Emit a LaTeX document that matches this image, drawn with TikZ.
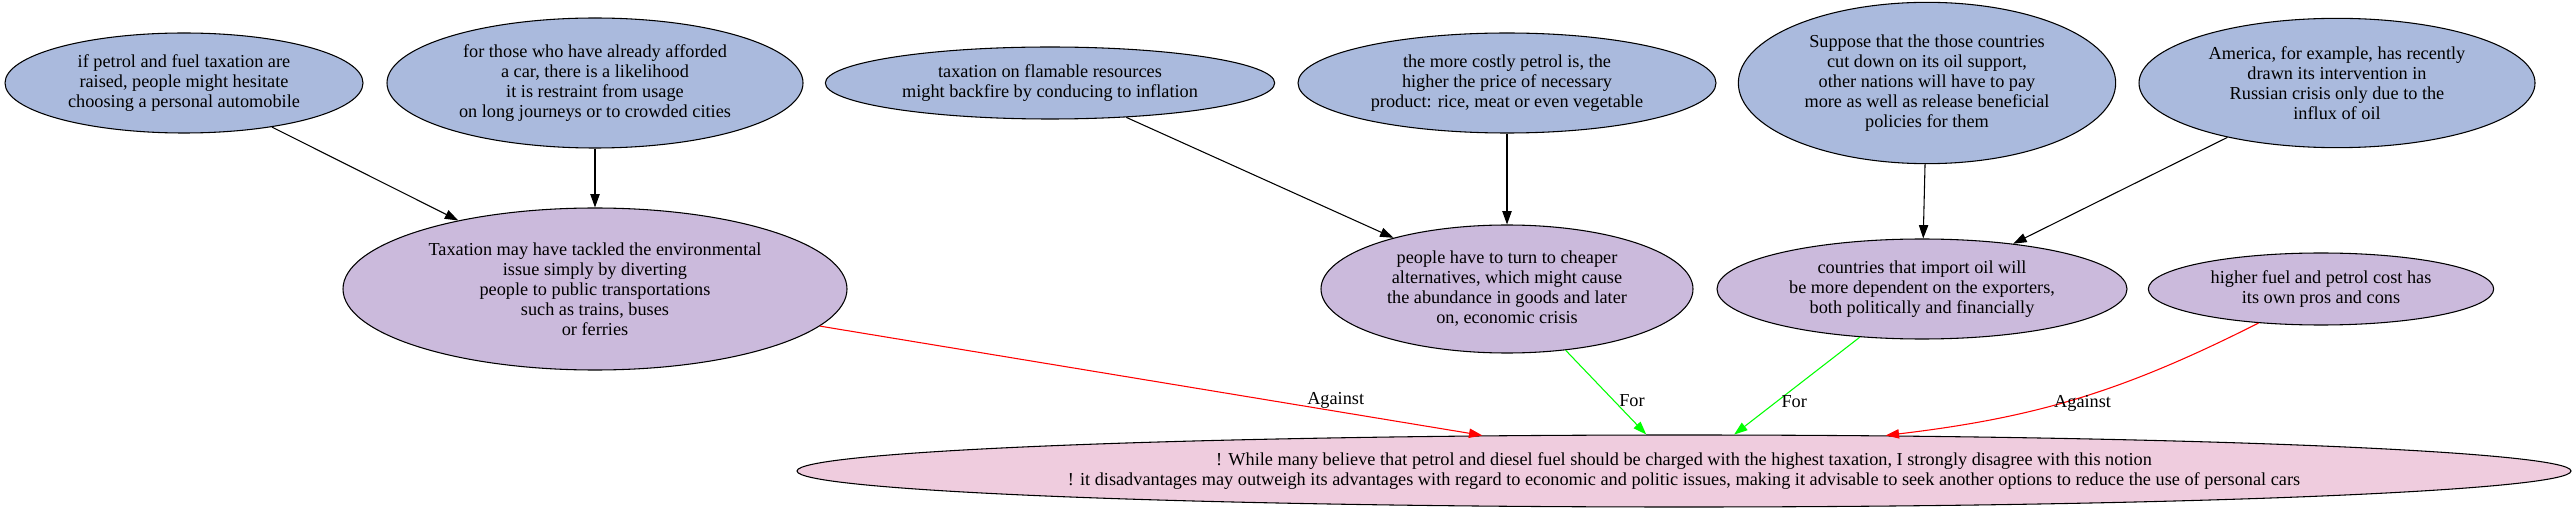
\documentclass[tikz,border=0pt]{standalone}
\usepackage{fontspec}
\setmainfont{Liberation Serif}
\usepackage{tikz}
\usetikzlibrary{shapes.geometric,arrows.meta}
\usepackage{xcolor}
\definecolor{premiseblue}{RGB}{170,186,221}
\definecolor{claimlilac}{RGB}{203,186,220}
\definecolor{thesispink}{RGB}{239,204,222}

\begin{document}
\begin{tikzpicture}[x=0.75pt, y=-0.75pt, >={Triangle[length=10pt,width=7pt]}]
    % bubble style
    \tikzstyle{bubble}=[
      draw,
      ellipse,
      inner sep=0pt,
      line width=0.8pt,
      align=center,
      font=\fontsize{13.7}{15}\selectfont
    ]
    \tikzstyle{premise}=[bubble, fill=premiseblue]
    \tikzstyle{claim}=[bubble, fill=claimlilac]
    \tikzstyle{thesis}=[bubble, fill=thesispink]
    \tikzstyle{lbl}=[inner sep=1pt, font=\fontsize{13.7}{15}\selectfont]

    \useasboundingbox (0,0) rectangle (2574,513);

    % Top row
    \node[premise, minimum width=268.5pt, minimum height=75pt] (A) at (184,83)
      {if petrol and fuel taxation are\\raised, people might hesitate\\choosing a personal automobile};
    \node[premise, minimum width=312pt, minimum height=97.5pt] (B) at (595,83)
      {for those who have already afforded\\a car, there is a likelihood\\it is restraint from usage\\on long journeys or to crowded cities};
    \node[premise, minimum width=337pt, minimum height=54pt] (C) at (1050,83)
      {taxation on flamable resources\\might backfire by conducing to inflation};
    \node[premise, minimum width=313.5pt, minimum height=75pt] (D) at (1507,83)
      {the more costly petrol is, the\\higher the price of necessary\\product: rice, meat or even vegetable};
    \node[premise, minimum width=283pt, minimum height=121pt] (E) at (1927,83)
      {Suppose that the those countries\\cut down on its oil support,\\other nations will have to pay\\more as well as release beneficial\\policies for them};
    \node[premise, minimum width=297pt, minimum height=97pt] (F) at (2337,83)
      {America, for example, has recently\\drawn its intervention in\\Russian crisis only due to the\\influx of oil};

    % Middle row
    \node[claim, minimum width=378pt, minimum height=121.5pt] (G) at (595,289)
      {Taxation may have tackled the environmental\\issue simply by diverting\\people to public transportations\\such as trains, buses\\or ferries};
    \node[claim, minimum width=279pt, minimum height=96pt] (H) at (1507,289)
      {people have to turn to cheaper\\alternatives, which might cause\\the abundance in goods and later\\on, economic crisis};
    \node[claim, minimum width=307.5pt, minimum height=75pt] (I) at (1922,289)
      {countries that import oil will\\be more dependent on the exporters,\\both politically and financially};
    \node[claim, minimum width=259pt, minimum height=54pt] (J) at (2321,289)
      {higher fuel and petrol cost has\\its own pros and cons};

    % Bottom
    \node[thesis, minimum width=1330.5pt, minimum height=54pt] (K) at (1684,471)
      {! While many believe that petrol and diesel fuel should be charged with the highest taxation, I strongly disagree with this notion\\! it disadvantages may outweigh its advantages with regard to economic and politic issues, making it advisable to seek another options to reduce the use of personal cars};

    % Arrows into middle row
    \draw[->, line width=0.8pt] (A) -- (G);
    \draw[->, line width=0.8pt] (B) -- (G);
    \draw[->, line width=0.8pt] (C) -- (H);
    \draw[->, line width=0.8pt] (D) -- (H);
    \draw[->, line width=0.8pt] (E) -- (I);
    \draw[->, line width=0.8pt] (F) -- (I);

    % Arrows into the thesis
    \draw[->, line width=0.8pt, red] (G) -- (K.170.6)
      node[lbl, pos=0.68, xshift=49pt, black] (L1) {Against};
    \draw[->, line width=0.8pt, green] (H) -- (K.136.6)
      node[lbl, pos=0.6, xshift=13.5pt, black] (L2) {For};
    \draw[->, line width=0.8pt, green] (I) -- (K.36.9)
      node[lbl, pos=0.66, xshift=13pt, black] (L3) {For};
    \draw[->, line width=0.8pt, red] (J) to[bend left=10]
      node[lbl, pos=0.62, xshift=35pt, yshift=4.5pt, black] (L4) {Against} (K.10.3);
  \end{tikzpicture}
\end{document}
